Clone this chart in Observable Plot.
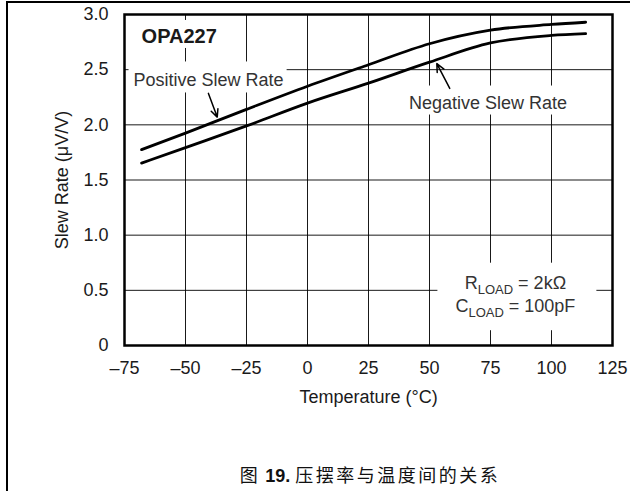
<!DOCTYPE html>
<html>
<head>
<meta charset="utf-8">
<script src="https://cdn.jsdelivr.net/npm/d3@7"></script>
<script src="https://cdn.jsdelivr.net/npm/@observablehq/plot@0.6"></script>
<style>
  html, body { margin: 0; padding: 0; background: #fff; }
  #page { position: relative; width: 630px; height: 491px; overflow: hidden; }
  #frame { position: absolute; left: 6px; top: 1px; width: 640px; height: 500px;
           border-left: 2px solid #000; border-top: 2px solid #000; }
  #chart { position: absolute; left: 0; top: 0; }
  #caption { position: absolute; left: 0; width: 740px; top: 461px; text-align: center;
             font-family: "Liberation Sans", Arial, "Noto Sans CJK SC", sans-serif; font-size: 18px; color: #111; }
  #caption .cjk { font-family: "Noto Sans CJK SC", sans-serif; letter-spacing: 2.5px; }
</style>
</head>
<body>
<div id="page">
  <div id="frame"></div>
  <div id="chart"></div>
  <div id="caption"><span class="cjk">图</span> <b>19.</b> <span class="cjk">压摆率与温度间的关系</span></div>
</div>
<script>
// ---- data ----
const temps = [-68, -50, -25, 0, 25, 50, 75, 100, 114];
const positiveRate = [1.775, 1.925, 2.14, 2.35, 2.545, 2.735, 2.858, 2.91, 2.93];
const negativeRate = [1.653, 1.794, 1.99, 2.197, 2.378, 2.568, 2.742, 2.81, 2.826];

const xTicks = [-75, -50, -25, 0, 25, 50, 75, 100, 125];
const xTickLabels = ["–75", "–50", "–25", "0", "25", "50", "75", "100", "125"];
const yTicks = [0, 0.5, 1.0, 1.5, 2.0, 2.5, 3.0];
const yTickLabels = ["0", "0.5", "1.0", "1.5", "2.0", "2.5", "3.0"];

const xTitle = "Temperature (°C)";
const yTitle = "Slew Rate (μV/V)";

// annotation labels (data coordinates)
const partName = "OPA227";
const partAt = [-68, 2.80];
const posLabel = "Positive Slew Rate";
const posLabelAt = [-71.3, 2.40];
const negLabel = "Negative Slew Rate";
const negLabelAt = [74, 2.20];
const posArrow = [-40.6, 2.285, -37.0, 2.07];
const negArrow = [58.3, 2.33, 53.0, 2.555];
const loadSymbols = ["R", "C"];
const loadSub = "LOAD";
const loadValues = ["2kΩ", "100pF"];
const loadX = 85.2;
const loadY = [0.567, 0.354];

// ---- build table ----
const rows = [];
temps.forEach((t, i) => rows.push({t, v: positiveRate[i], s: "pos"}));
temps.forEach((t, i) => rows.push({t, v: negativeRate[i], s: "neg"}));

const SEP = "|";
const loadRows = loadSymbols.map((s, i) => ({x: loadX, y: loadY[i], txt: s + SEP + loadSub + SEP + " = " + loadValues[i]}));
const arrows = [
  {x1: posArrow[0], y1: posArrow[1], x2: posArrow[2], y2: posArrow[3]},
  {x1: negArrow[0], y1: negArrow[1], x2: negArrow[2], y2: negArrow[3]}
];

const ink = "#1a1a1a";
const svg = Plot.plot({
  width: 630,
  height: 410,
  marginLeft: 124,
  marginRight: 18,
  marginTop: 14,
  marginBottom: 65,
  style: {fontFamily: "'Liberation Sans', Arial, sans-serif", fontSize: "18px", color: ink, background: "transparent"},
  x: {domain: [-75, 125]},
  y: {domain: [0, 3]},
  marks: [
    Plot.gridX(xTicks, {stroke: "#000", strokeOpacity: 0.9, strokeWidth: 1}),
    Plot.gridY(yTicks, {stroke: "#000", strokeOpacity: 0.9, strokeWidth: 1}),
    // annotation text marks (the first four text groups)
    Plot.text([partName], {x: partAt[0], y: partAt[1], text: d => d, textAnchor: "start", fontWeight: "bold", fontSize: 20, fill: ink}),
    Plot.text([posLabel], {x: posLabelAt[0], y: posLabelAt[1], text: d => d, textAnchor: "start", fill: "#333"}),
    Plot.text([negLabel], {x: negLabelAt[0], y: negLabelAt[1], text: d => d, textAnchor: "middle", fill: "#333"}),
    Plot.text(loadRows, {x: "x", y: "y", text: "txt", textAnchor: "middle", fill: "#333"}),
    Plot.line(rows, {x: "t", y: "v", z: "s", stroke: "#000", strokeWidth: 2.8, curve: "monotone-x"}),
    Plot.arrow(arrows, {x1: "x1", y1: "y1", x2: "x2", y2: "y2", stroke: "#000", strokeWidth: 1.5, headLength: 9, headAngle: 50}),
    Plot.frame({stroke: "#000", strokeWidth: 2.5}),
    Plot.axisX(xTicks, {tickSize: 0, tickPadding: 16, tickFormat: d => xTickLabels[xTicks.indexOf(d)], label: null, fill: ink}),
    Plot.axisY(yTicks, {tickSize: 0, tickPadding: 16, tickFormat: d => yTickLabels[yTicks.indexOf(d)], label: null, fill: ink}),
    Plot.text([xTitle], {frameAnchor: "bottom", dy: 52, textAnchor: "middle", lineAnchor: "middle", text: d => d, fill: ink}),
    Plot.text([yTitle], {frameAnchor: "left", dx: -62, rotate: -90, textAnchor: "middle", lineAnchor: "middle", text: d => d, fill: ink})
  ]
});
document.getElementById("chart").appendChild(svg);

const ns = "http://www.w3.org/2000/svg";
const textGroups = Array.from(svg.querySelectorAll('g[aria-label="text"]'));
const noteGroups = textGroups.slice(0, 4);

// subscripts for LOAD labels
if (noteGroups[3]) {
  noteGroups[3].querySelectorAll("text").forEach(t => {
    const parts = t.textContent.split(SEP);
    if (parts.length < 3) return;
    t.textContent = "";
    const a = document.createElementNS(ns, "tspan"); a.textContent = parts[0];
    const b = document.createElementNS(ns, "tspan"); b.textContent = parts[1];
    b.setAttribute("font-size", "13"); b.setAttribute("dy", "5");
    const c = document.createElementNS(ns, "tspan"); c.textContent = parts[2];
    c.setAttribute("dy", "-5");
    t.append(a, b, c);
  });
}

// white boxes behind annotation labels (hide grid lines like the original)
const pads = [[8, 5, 8, 1], [5, 9, 3, 2], [6, 7, 6, 2], [18, 10, 21, 10]];
const svgRect = svg.getBoundingClientRect();
noteGroups.forEach((g, k) => {
  const p = pads[k];
  let x0 = Infinity, y0 = Infinity, x1 = -Infinity, y1 = -Infinity;
  g.querySelectorAll("text").forEach(t => {
    const b = t.getBoundingClientRect();
    x0 = Math.min(x0, b.left - svgRect.left); y0 = Math.min(y0, b.top - svgRect.top);
    x1 = Math.max(x1, b.right - svgRect.left); y1 = Math.max(y1, b.bottom - svgRect.top);
  });
  const r = document.createElementNS(ns, "rect");
  r.setAttribute("x", x0 - p[0]); r.setAttribute("y", y0 - p[1]);
  r.setAttribute("width", x1 - x0 + p[0] + p[2]); r.setAttribute("height", y1 - y0 + p[1] + p[3]);
  r.setAttribute("fill", "#fff");
  g.parentNode.insertBefore(r, g);
});
</script>
</body>
</html>
